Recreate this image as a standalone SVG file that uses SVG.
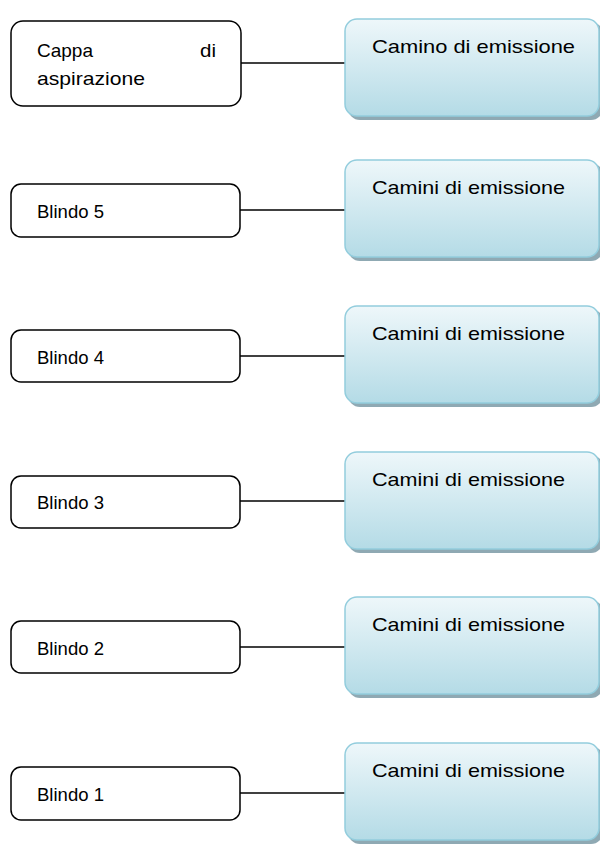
<svg xmlns="http://www.w3.org/2000/svg" width="600" height="847" viewBox="0 0 600 847">
<style>
.src{fill:#fff;stroke:#000;stroke-width:1.5}
.dst{fill:url(#g);stroke:#93cddd;stroke-width:1.5}
.sh{fill:#8fa9b3}
.t{font-family:"Liberation Sans",Arial,sans-serif;font-size:19px;fill:#000}
.c{stroke:#000;stroke-width:1.5;fill:none}
</style>
<defs>
<linearGradient id="g" x1="0" y1="0" x2="0" y2="1">
<stop offset="0" stop-color="#eef7fa"/>
<stop offset="1" stop-color="#b4dbe6"/>
</linearGradient>
<g id="dstbox">
<rect class="sh" x="348" y="3" width="255" height="98" rx="12"/>
<rect class="dst" x="345" y="0" width="254" height="97" rx="12"/>
</g>
</defs>
<g id="connectors">
<line class="c" x1="241" y1="63" x2="345" y2="63"/>
<line class="c" x1="240" y1="210" x2="345" y2="210"/>
<line class="c" x1="240" y1="356" x2="345" y2="356"/>
<line class="c" x1="240" y1="501" x2="345" y2="501"/>
<line class="c" x1="240" y1="647" x2="345" y2="647"/>
<line class="c" x1="240" y1="793" x2="345" y2="793"/>
</g>
<g id="cappa">
<rect class="src" x="11" y="21" width="230" height="85" rx="12"/>
<text class="t" x="37" y="57" textLength="56" lengthAdjust="spacingAndGlyphs">Cappa</text>
<text class="t" x="200" y="57" textLength="16" lengthAdjust="spacingAndGlyphs">di</text>
<text class="t" x="37" y="85" textLength="108" lengthAdjust="spacingAndGlyphs">aspirazione</text>
</g>
<g id="camino">
<use href="#dstbox" y="19"/>
<text class="t" x="372" y="53" textLength="203" lengthAdjust="spacingAndGlyphs">Camino di emissione</text>
</g>
<g id="blindo5">
<rect class="src" x="11" y="184" width="229" height="53" rx="10"/>
<text class="t" x="37" y="218" textLength="67" lengthAdjust="spacingAndGlyphs">Blindo 5</text>
</g>
<g id="camini5">
<use href="#dstbox" y="160"/>
<text class="t" x="372" y="194" textLength="193" lengthAdjust="spacingAndGlyphs">Camini di emissione</text>
</g>
<g id="blindo4">
<rect class="src" x="11" y="330" width="229" height="52" rx="10"/>
<text class="t" x="37" y="364" textLength="67" lengthAdjust="spacingAndGlyphs">Blindo 4</text>
</g>
<g id="camini4">
<use href="#dstbox" y="306"/>
<text class="t" x="372" y="340" textLength="193" lengthAdjust="spacingAndGlyphs">Camini di emissione</text>
</g>
<g id="blindo3">
<rect class="src" x="11" y="476" width="229" height="52" rx="10"/>
<text class="t" x="37" y="509" textLength="67" lengthAdjust="spacingAndGlyphs">Blindo 3</text>
</g>
<g id="camini3">
<use href="#dstbox" y="452"/>
<text class="t" x="372" y="486" textLength="193" lengthAdjust="spacingAndGlyphs">Camini di emissione</text>
</g>
<g id="blindo2">
<rect class="src" x="11" y="621" width="229" height="52" rx="10"/>
<text class="t" x="37" y="655" textLength="67" lengthAdjust="spacingAndGlyphs">Blindo 2</text>
</g>
<g id="camini2">
<use href="#dstbox" y="597"/>
<text class="t" x="372" y="631" textLength="193" lengthAdjust="spacingAndGlyphs">Camini di emissione</text>
</g>
<g id="blindo1">
<rect class="src" x="11" y="767" width="229" height="53" rx="10"/>
<text class="t" x="37" y="801" textLength="67" lengthAdjust="spacingAndGlyphs">Blindo 1</text>
</g>
<g id="camini1">
<use href="#dstbox" y="743"/>
<text class="t" x="372" y="777" textLength="193" lengthAdjust="spacingAndGlyphs">Camini di emissione</text>
</g>
</svg>
